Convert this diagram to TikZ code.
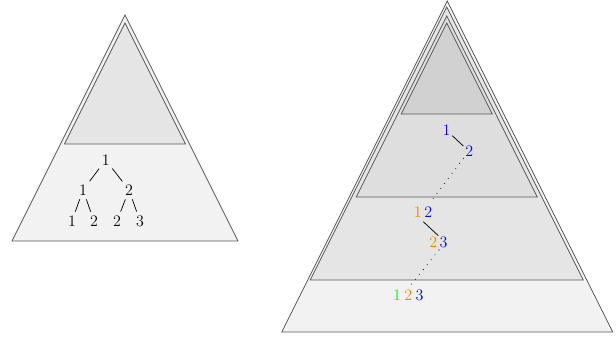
\documentclass[tikz,border=0pt]{standalone}
\usetikzlibrary{calc}
\begin{document}
\begin{tikzpicture}[x=0.75pt,y=-0.75pt,
  tri/.style={draw=black!65, line width=0.6pt, line join=miter},
  num/.style={inner sep=0pt, font=\fontsize{12}{14}\selectfont},
  edgeline/.style={draw=black, line width=0.55pt, shorten <=3pt, shorten >=3pt},
  dotline/.style={draw=black, line width=0.8pt, line cap=round, dash pattern=on 0pt off 4.7pt},
]
\useasboundingbox (0,0) rectangle (616,341);
% ---------- left pyramid ----------
\path[tri, fill=black!5] (125,15) -- (238,241) -- (12,241) -- cycle;
\path[tri, fill=black!10] (125,23) -- (185.5,144) -- (64.5,144) -- cycle;
\node[num] (t)  at (105.7,160) {1};
\node[num] (a)  at (83,190) {1};
\node[num] (b)  at (129,190) {2};
\node[num] (l1) at (72,221) {1};
\node[num] (l2) at (94,221) {2};
\node[num] (l3) at (117,221) {2};
\node[num] (l4) at (140,221) {3};
\draw[edgeline] (t) -- (a);
\draw[edgeline] (t) -- (b);
\draw[edgeline] (a) -- (l1);
\draw[edgeline] (a) -- (l2);
\draw[edgeline] (b) -- (l3);
\draw[edgeline] (b) -- (l4);
% ---------- right pyramid ----------
\path[tri, fill=black!5]  (447.2,1)  -- (612.7,332) -- (281.7,332) -- cycle;
\path[tri, fill=black!10] (446.7,7)  -- (583.2,280) -- (310.2,280) -- cycle;
\path[tri, fill=black!13] (446.7,16) -- (537.2,197) -- (356.2,197) -- cycle;
\path[tri, fill=black!18] (446.7,23) -- (492.2,114) -- (401.2,114) -- cycle;
\node[num, text=blue] (r1) at (446.5,129.8) {1};
\node[num, text=blue] (r2) at (469.3,151) {2};
\node[num] (g12) at (423,212.3) {\textcolor{orange}{1}\hspace{2pt}\textcolor{blue}{2}};
\node[num] (g23) at (438.4,242) {\textcolor{orange}{2}\hspace{1.7pt}\textcolor{blue}{3}};
\node[num] (g123) at (408.3,295.5) {\textcolor{green}{1}\hspace{2.6pt}\textcolor{orange}{2}\hspace{2.6pt}\textcolor{blue}{3}};
\draw[black, line width=0.55pt] ($(r1.center)+(5.8,5.9)$) -- ($(r2.center)+(-6,-5)$);
\draw[dotline] ($(r2.center)+(-6,7.3)$) -- ($(g12.center)+(9,-12.3)$);
\draw[black, line width=0.55pt] ($(g12.center)+(0.3,9.4)$) -- ($(g23.center)+(-0.1,-6.3)$);
\draw[dotline] ($(g23.center)+(0.6,8)$) -- ($(g123.center)+(2.4,-10.5)$);
\end{tikzpicture}
\end{document}
